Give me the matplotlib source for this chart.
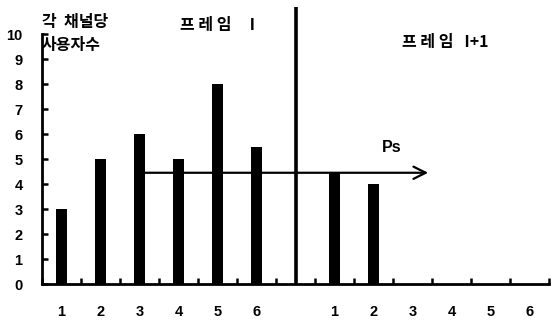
import matplotlib
matplotlib.use("Agg")
import matplotlib.pyplot as plt
import numpy as np

plt.rcdefaults()

# Data
frame_i_users = [3, 5, 6, 5, 8, 5.5]
frame_i1_users = [4.5, 4]
tick_labels = ["1", "2", "3", "4", "5", "6", "", "1", "2", "3", "4", "5", "6"]
ps_level = 4.45
y_ticks = list(range(0, 11))

plt.rcParams['font.family'] = ['Liberation Sans', 'DejaVu Sans']
kr = ['Noto Sans CJK KR', 'DejaVu Sans']

fig = plt.figure(figsize=(5.58, 3.23), dpi=100)
ax = fig.add_axes([0.0753, 0.1207, 0.9087, 0.774])

pos_i = np.arange(len(frame_i_users))
pos_i1 = np.arange(len(frame_i_users) + 1, len(frame_i_users) + 1 + len(frame_i1_users))
ax.bar(pos_i, frame_i_users, width=0.26, color='black')
ax.bar(pos_i1, frame_i1_users, width=0.28, color='black')

# divider between frames
div = len(frame_i_users)
ax.plot([div, div], [0, 11.1], color='black', lw=2.6, clip_on=False, solid_capstyle='butt')

# Ps arrow
ax.annotate('', xy=(9.4, ps_level), xytext=(2.12, ps_level),
            arrowprops=dict(arrowstyle='->', color='black', lw=1.6,
                            mutation_scale=22, shrinkA=0, shrinkB=0))
ax.text(8.47, 5.45, 'Ps', ha='center', va='center', fontsize=11.5, fontweight='bold')

ax.set_xlim(-0.5, 12.5)
ax.set_ylim(0, 10)
ax.set_xticks(np.arange(len(tick_labels)))
ax.set_xticklabels(tick_labels)
ax.set_xticks(np.arange(-0.5, 12.6, 1), minor=True)
ax.set_yticks(y_ticks)
ax.tick_params(axis='x', which='major', length=0, pad=15, labelsize=10.5)
ax.tick_params(axis='x', which='minor', direction='in', length=4.5, width=1.8,
               color='black', bottom=True)
ax.tick_params(axis='y', which='major', direction='in', length=4.5, width=1.8, pad=14,
               labelsize=10.5, color='black', left=True)
for lab in ax.get_xticklabels() + ax.get_yticklabels():
    lab.set_fontweight('bold')

for s in ['top', 'right']:
    ax.spines[s].set_visible(False)
for s in ['left', 'bottom']:
    ax.spines[s].set_linewidth(2)

fig.text(42/558, 1-22/323, '각  채널당', family=kr, fontweight='bold', fontsize=11.5, va='center', ha='left')
fig.text(42/558, 1-45/323, '사용자수', family=kr, fontweight='bold', fontsize=11.5, va='center', ha='left')
fig.text(180/558, 1-25/323, '프 레 임     I', family=kr, fontweight='bold', fontsize=11.5, va='center', ha='left')
fig.text(402/558, 1-42/323, '프 레 임   I+1', family=kr, fontweight='bold', fontsize=11.5, va='center', ha='left')

fig.savefig('out.png', dpi=100)
